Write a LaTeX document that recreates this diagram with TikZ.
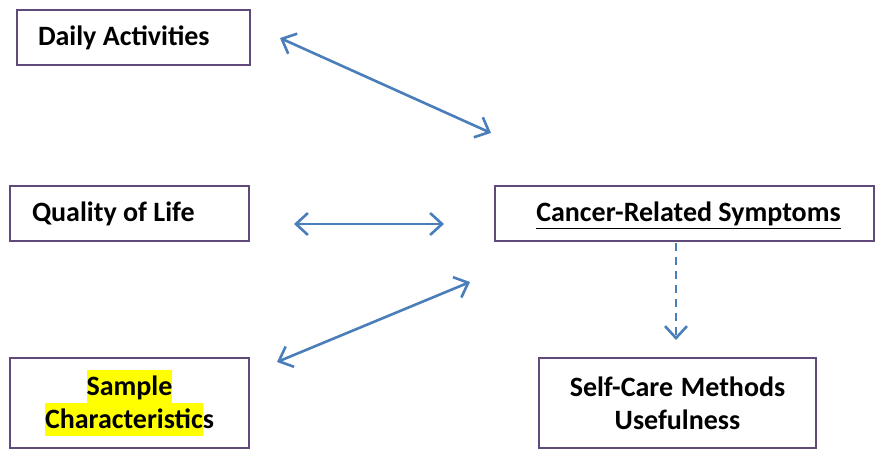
\documentclass[tikz,border=0pt]{standalone}
\usepackage{fontspec}
\setmainfont{Carlito}
\usetikzlibrary{arrows.meta}
\definecolor{boxline}{HTML}{604A7B}
\definecolor{linkblue}{HTML}{4A7EBB}
\definecolor{marker}{HTML}{FFFF00}
\tikzstyle{box}=[draw=boxline,line width=1.6pt,inner sep=0pt,font=\fontsize{28}{33}\selectfont\bfseries,execute at begin node={\spaceskip=0pt\xspaceskip=0pt}]
\tikzstyle{left box}=[box,align=left,text height=23pt,text depth=6pt]
\tikzstyle{link}=[draw=linkblue,line width=2.6pt,{Straight Barb[length=12pt,width=22pt]}-{Straight Barb[length=12pt,width=22pt]}]
\tikzstyle{dashed link}=[draw=linkblue,line width=2.6pt,dash pattern=on 8pt off 6pt,-{Straight Barb[length=12pt,width=22pt]}]
\newcommand{\hilite}[1]{{\setlength{\fboxsep}{0pt}\colorbox{marker}{\rule[-8pt]{0pt}{33pt}#1}}}

\begin{document}
\begin{tikzpicture}[x=1pt,y=-1pt]
    \useasboundingbox (0,0) rectangle (875,449);
    % The boxes
    \node[left box,minimum width=233pt,minimum height=55pt,text width=191pt] (daily) at (133.5,37.5) {Daily Activities};
    \node[left box,minimum width=239pt,minimum height=55pt,text width=195pt] (life) at (129.5,213.5) {Quality of Life};
    \node[box,align=center,minimum width=239pt,minimum height=90pt,text width=230pt] (sample) at (129.5,403) {\hilite{Sample}\\\hilite{Characteristic}s};
    \node[box,align=center,minimum width=379pt,minimum height=55pt,text height=23pt,text depth=6pt] (symptoms) at (684.5,213.5) {\hspace*{8pt}\underline{Cancer-Related Symptoms}};
    \node[box,align=center,minimum width=277pt,minimum height=90pt,text width=265pt] (selfcare) at (677.5,403) {Self-Care Methods\\Usefulness};

    % Free ends of the arrows
    \foreach \x/\y/\name in {280/38/d1, 491/133/d2, 294/224/q1, 444/224/q2, 277/362/s1, 470/282/s2, 676/243/u1, 676/340/u2}
        \coordinate (\name) at (\x,\y);

    % Connect them
    \foreach \source/\dest in {d1/d2, q1/q2, s1/s2}
        \path[link] (\source) -- (\dest);
    \path[dashed link] (u1) -- (u2);
\end{tikzpicture}
\end{document}
